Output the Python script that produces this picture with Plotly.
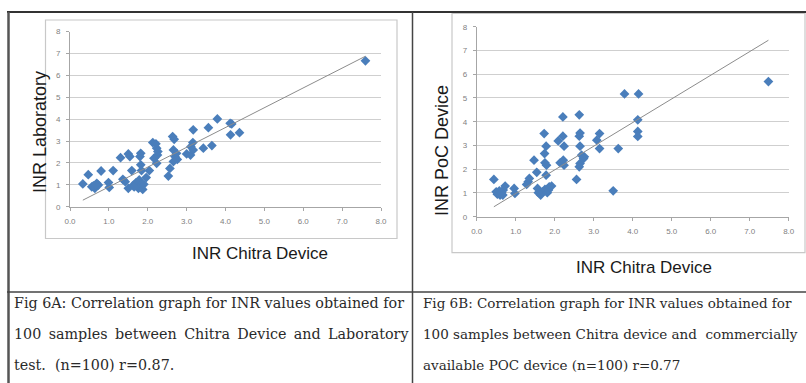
import plotly.graph_objects as go

# ---------------- data ----------------
a_x = [0.33, 0.47, 0.56, 0.64, 0.73, 0.69, 0.80, 0.99, 1.01, 1.11, 1.30, 1.36, 1.42, 1.50, 1.54,
       1.50, 1.59, 1.63, 1.70, 1.76, 1.78, 1.80, 1.82, 1.82, 1.84, 1.84, 1.87, 1.96, 2.04, 2.13,
       2.16, 2.21, 2.23, 2.25, 2.23, 2.26, 2.53, 2.57, 2.64, 2.68, 2.66, 2.66, 2.70, 2.74, 2.76,
       3.00, 3.10, 3.11, 3.16, 3.17, 3.17, 3.43, 3.56, 3.65, 3.79, 4.12, 4.16, 4.13, 4.36, 7.60,
       0.60, 0.66, 1.65, 1.90]
a_y = [1.04, 1.46, 0.91, 0.84, 0.99, 1.07, 1.63, 1.10, 0.88, 1.65, 2.24, 1.25, 1.14, 2.41, 2.29,
       0.84, 1.65, 0.99, 1.10, 0.84, 1.22, 2.29, 2.44, 1.91, 1.65, 0.99, 0.79, 1.33, 1.65, 2.93,
       2.21, 2.87, 2.67, 2.36, 1.98, 2.52, 1.40, 1.75, 3.20, 3.08, 2.59, 2.06, 2.29, 2.44, 2.16,
       2.41, 2.36, 2.74, 2.93, 3.51, 2.59, 2.67, 3.61, 2.79, 4.01, 3.81, 3.78, 3.28, 3.38, 6.66,
       0.95, 1.00, 0.90, 1.02]

b_x = [0.44, 0.50, 0.53, 0.58, 0.60, 0.64, 0.68, 0.73, 0.67, 0.96, 0.98, 1.28, 1.32, 1.35, 1.47,
       1.54, 1.56, 1.58, 1.64, 1.69, 1.73, 1.74, 1.75, 1.78, 1.75, 1.78, 1.79, 1.81, 1.84, 1.86,
       1.92, 2.09, 2.14, 2.21, 2.21, 2.22, 2.24, 2.24, 2.56, 2.63, 2.63, 2.65, 2.65, 2.65, 2.63,
       2.69, 2.74, 2.76, 3.08, 3.15, 3.15, 3.50, 3.63, 3.79, 4.15, 4.13, 4.13, 4.13, 7.48]
b_y = [1.57, 1.05, 0.95, 1.09, 0.91, 1.01, 1.12, 1.29, 0.91, 1.19, 0.98, 1.36, 1.47, 1.61, 2.38,
       1.87, 1.19, 1.01, 0.91, 1.05, 3.50, 2.66, 2.27, 2.97, 1.15, 1.75, 2.17, 1.01, 1.12, 1.26,
       1.29, 3.19, 2.27, 4.20, 3.39, 2.38, 2.97, 2.17, 1.57, 4.29, 3.39, 3.52, 2.97, 2.24, 2.10,
       2.59, 2.45, 2.52, 3.22, 3.50, 2.87, 1.09, 2.87, 5.17, 5.17, 4.08, 3.59, 3.38, 5.69]

trend_a = (0.904, 0.0)    # slope, intercept
trend_b = (0.996, -0.02)

x_ticks = [0, 1, 2, 3, 4, 5, 6, 7, 8]
x_ticklabels = ["0.0", "1.0", "2.0", "3.0", "4.0", "5.0", "6.0", "7.0", "8.0"]
y_ticks = [0, 1, 2, 3, 4, 5, 6, 7, 8]

title_x = "INR Chitra Device"
title_ya = "INR Laboratory"
title_yb = "INR PoC Device"

TS = " \u2009"  # slightly widened word gap (justified look)
caption_a = ["Fig 6A: Correlation graph for INR values obtained for",
             TS.join(["100", "samples", "between", "Chitra", "Device", "and", "Laboratory"]),
             "test.  (n=100) r=0.87."]
caption_b = ["Fig 6B: Correlation graph for INR values obtained for",
             "100 samples between Chitra device and  commercially",
             "available POC device (n=100) r=0.77"]

# ---------------- layout helpers ----------------
W, H = 806, 383
def px(x):
    return x / W
def py(y):
    return 1 - y / H

MARKER = "#4a7ebb"
TREND = "#8c8c8c"
GRID = "#cfcfcf"
AXIS = "#a6a6a6"
TICKF = dict(family="Liberation Sans, Arial, sans-serif", size=8, color="#7f7f7f")

fig = go.Figure()

def add_panel(xs, ys, trend, xa, ya):
    fig.add_trace(go.Scatter(x=xs, y=ys, mode="markers", xaxis=xa, yaxis=ya,
                             marker=dict(symbol="diamond", size=7.5, color=MARKER,
                                         line=dict(width=0)),
                             showlegend=False, hoverinfo="x+y"))
    x0, x1 = min(xs), max(xs)
    fig.add_trace(go.Scatter(x=[x0, x1], y=[trend[0] * x0 + trend[1], trend[0] * x1 + trend[1]],
                             mode="lines", xaxis=xa, yaxis=ya,
                             line=dict(color=TREND, width=1), showlegend=False,
                             hoverinfo="skip"))

add_panel(b_x, b_y, trend_b, "x2", "y2")
add_panel(a_x, a_y, trend_a, "x", "y")

xcommon = dict(range=[0, 8], tickvals=x_ticks, ticktext=x_ticklabels, showgrid=False,
               zeroline=False, showline=True, linecolor=AXIS, linewidth=1,
               ticks="outside", ticklen=3, tickcolor=AXIS, tickfont=TICKF,
               ticklabelstandoff=4, fixedrange=True, automargin=False)
ycommon = dict(range=[0, 8], tickvals=y_ticks, showgrid=True, gridcolor=GRID, gridwidth=1,
               zeroline=False, showline=True, linecolor=AXIS, linewidth=1,
               ticks="outside", ticklen=3, tickcolor=AXIS, tickfont=TICKF,
               ticklabelstandoff=4, fixedrange=True, automargin=False)

fig.update_layout(
    width=W, height=H, margin=dict(l=0, r=0, t=0, b=0, pad=0, autoexpand=False),
    paper_bgcolor="white", plot_bgcolor="white",
    xaxis=dict(domain=[px(70), px(381)], anchor="y", **xcommon),
    yaxis=dict(domain=[py(206.7), py(31.5)], anchor="x", **ycommon),
    xaxis2=dict(domain=[px(476.7), px(788.7)], anchor="y2", **xcommon),
    yaxis2=dict(domain=[py(216.7), py(26.7)], anchor="x2", **ycommon),
)

shapes = []
# chart area boxes
shapes.append(dict(type="rect", xref="paper", yref="paper", x0=px(45.5), x1=px(397),
                   y0=py(238.5), y1=py(20), line=dict(color="#c8c8c8", width=1.2)))
shapes.append(dict(type="rect", xref="paper", yref="paper", x0=px(452), x1=px(805),
                   y0=py(252.7), y1=py(13.5), line=dict(color="#c8c8c8", width=1.2)))
# table borders
TB = "#333333"
shapes.append(dict(type="line", xref="paper", yref="paper", x0=px(7), x1=1,
                   y0=py(12), y1=py(12), line=dict(color=TB, width=2)))
shapes.append(dict(type="line", xref="paper", yref="paper", x0=px(8.5), x1=px(8.5),
                   y0=py(12), y1=0, line=dict(color="#555555", width=2.5)))
shapes.append(dict(type="line", xref="paper", yref="paper", x0=px(412.5), x1=px(412.5),
                   y0=py(12), y1=0, line=dict(color="#444444", width=1.5)))
shapes.append(dict(type="line", xref="paper", yref="paper", x0=px(7), x1=1,
                   y0=py(292), y1=py(292), line=dict(color="#444444", width=1.5)))
fig.update_layout(shapes=shapes)

ann = []
TITLEF = dict(family="Liberation Sans, Arial, sans-serif", size=17, color="#1a1a1a")
ann.append(dict(text=title_x, x=px(260), y=py(253), xref="paper", yref="paper",
                showarrow=False, xanchor="center", yanchor="middle", font=TITLEF))
ann.append(dict(text=title_x, x=px(644), y=py(267), xref="paper", yref="paper",
                showarrow=False, xanchor="center", yanchor="middle", font=TITLEF))
ann.append(dict(text=title_ya, x=px(40), y=py(132), xref="paper", yref="paper",
                showarrow=False, xanchor="center", yanchor="middle", textangle=-90,
                font=dict(TITLEF, size=18)))
ann.append(dict(text=title_yb, x=px(442), y=py(150), xref="paper", yref="paper",
                showarrow=False, xanchor="center", yanchor="middle", textangle=-90,
                font=dict(TITLEF, size=18)))

CAPF_A = dict(family="DejaVu Serif, Liberation Serif, serif", size=14.3, color="#2a2a2a")
CAPF_B = dict(CAPF_A, size=13.5)
line_y = [303, 334, 365]
for i, t in enumerate(caption_a):
    ann.append(dict(text=t, x=px(12), y=py(line_y[i]), xref="paper", yref="paper",
                    showarrow=False, xanchor="left", yanchor="middle", font=CAPF_A))
for i, t in enumerate(caption_b):
    ann.append(dict(text=t, x=px(421), y=py(line_y[i]), xref="paper", yref="paper",
                    showarrow=False, xanchor="left", yanchor="middle", font=CAPF_B))
fig.update_layout(annotations=ann)

fig.write_html("out.html", config={"displayModeBar": False},
               post_script="document.body.style.margin='0';document.body.style.overflow='hidden';")
